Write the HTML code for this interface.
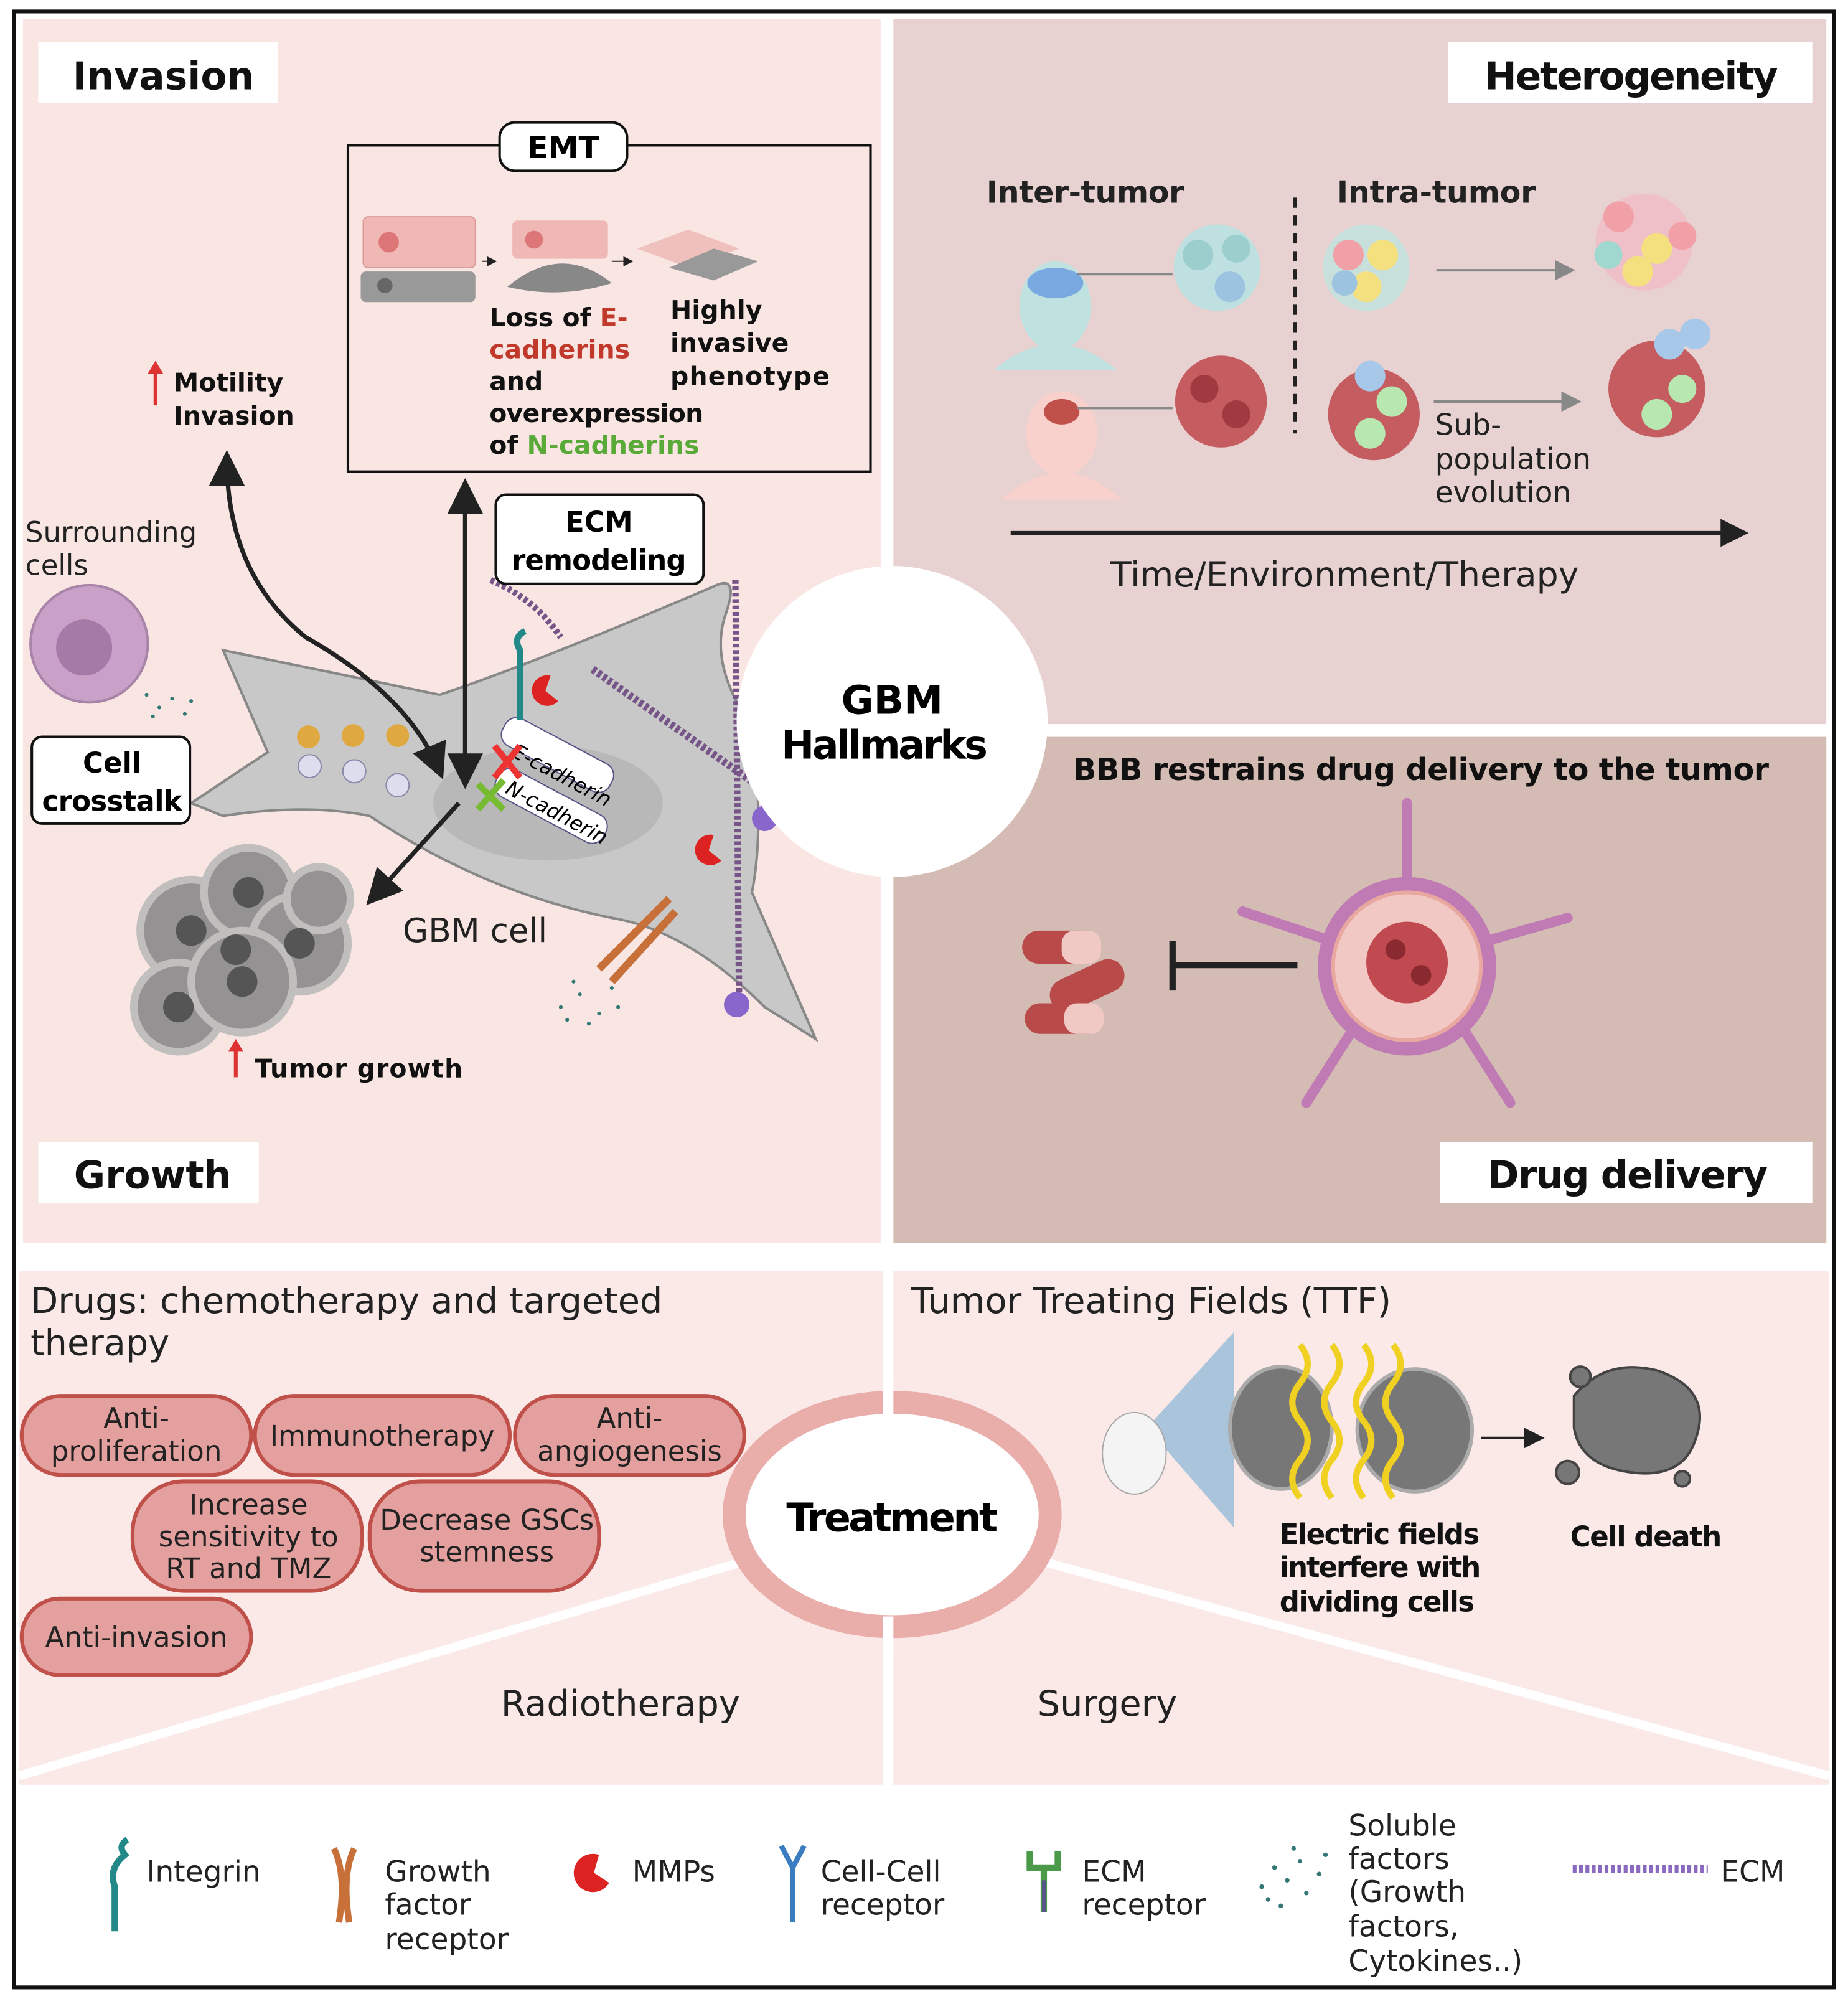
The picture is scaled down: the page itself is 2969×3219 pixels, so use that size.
<!DOCTYPE html>
<html><head><meta charset="utf-8"><style>
html,body{margin:0;padding:0;background:#fff}
svg{display:block}
text{font-family:"DejaVu Sans","Liberation Sans",sans-serif}
</style></head><body>
<svg width="2969" height="3219" viewBox="0 0 1450 1572" preserveAspectRatio="none" xmlns="http://www.w3.org/2000/svg">
<defs>
<marker id="ah" markerWidth="8" markerHeight="8" refX="6" refY="4" orient="auto" markerUnits="strokeWidth"><path d="M0,0 L8,4 L0,8 z" fill="#222"/></marker>
<marker id="as" markerWidth="8" markerHeight="8" refX="2" refY="4" orient="auto" markerUnits="strokeWidth"><path d="M8,0 L0,4 L8,8 z" fill="#222"/></marker>
<marker id="ag" markerWidth="8" markerHeight="8" refX="6" refY="4" orient="auto" markerUnits="strokeWidth"><path d="M0,0 L8,4 L0,8 z" fill="#888"/></marker>
</defs>
<rect x="0" y="0" width="1450" height="1572" fill="#fff"/>
<rect x="11" y="9" width="1428" height="1550" fill="#fff" stroke="#111" stroke-width="3"/>
<rect x="18" y="15" width="673" height="960" fill="#f9e6e3"/>
<rect x="701" y="15" width="732" height="553" fill="#e7d1d1"/>
<rect x="701" y="578" width="732" height="397" fill="#d4bcb4"/>
<rect x="15" y="997" width="1420" height="403" fill="#fbe9e8"/>
<line x1="697" y1="995" x2="697" y2="1400" stroke="#fff" stroke-width="8"/>
<line x1="600" y1="1220" x2="15" y2="1393" stroke="#fff" stroke-width="7"/>
<line x1="800" y1="1220" x2="1435" y2="1393" stroke="#fff" stroke-width="7"/>
<rect x="30" y="33" width="188" height="48" fill="#fff"/><text x="57" y="70" font-size="30" font-weight="bold" fill="#111">Invasion</text>
<rect x="1136" y="33" width="286" height="48" fill="#fff"/><text x="1165" y="70" font-size="30" font-weight="bold" fill="#111" textLength="230">Heterogeneity</text>
<rect x="30" y="896" width="173" height="48" fill="#fff"/><text x="58" y="932" font-size="30" font-weight="bold" fill="#111">Growth</text>
<rect x="1130" y="896" width="292" height="48" fill="#fff"/><text x="1167" y="932" font-size="30" font-weight="bold" fill="#111" textLength="220">Drug delivery</text>
<rect x="273" y="114" width="410" height="256" fill="none" stroke="#111" stroke-width="2"/>
<rect x="392" y="96" width="100" height="38" rx="12" fill="#fff" stroke="#111" stroke-width="2"/>
<text x="442" y="124" font-size="24" font-weight="bold" text-anchor="middle">EMT</text>
<rect x="285" y="170" width="88" height="40" rx="4" fill="#f0b8b4" stroke="#d99"/>
<circle cx="305" cy="190" r="8" fill="#d77"/>
<rect x="283" y="213" width="90" height="24" rx="4" fill="#999"/>
<circle cx="302" cy="224" r="6" fill="#666"/>
<line x1="378" y1="205" x2="388" y2="205" stroke="#222" marker-end="url(#ah)"/>
<rect x="402" y="173" width="75" height="30" rx="4" fill="#f0b8b4"/>
<circle cx="419" cy="188" r="7" fill="#d77"/>
<path d="M398,225 Q440,190 480,222 Q440,235 398,225z" fill="#888"/>
<line x1="480" y1="205" x2="495" y2="205" stroke="#222" marker-end="url(#ah)"/>
<path d="M500,195 L540,180 L580,195 L540,210z" fill="#f0c0bc"/>
<path d="M525,210 L560,195 L595,205 L560,220z" fill="#999"/>
<g font-size="20" font-weight="bold" fill="#111">
<text x="384" y="256">Loss of <tspan fill="#c0392b">E-</tspan></text>
<text x="384" y="281" fill="#c0392b">cadherins</text>
<text x="384" y="306">and</text>
<text x="384" y="331" textLength="168">overexpression</text>
<text x="384" y="356">of <tspan fill="#5aaa3a">N-cadherins</tspan></text>
<text x="526" y="250">Highly</text>
<text x="526" y="276">invasive</text>
<text x="526" y="302" textLength="125">phenotype</text>
<text x="136" y="307">Motility</text>
<text x="136" y="333">Invasion</text>
<text x="200" y="845" textLength="163">Tumor growth</text>
</g>
<line x1="122" y1="318" x2="122" y2="290" stroke="#d33" stroke-width="3"/><path d="M116,293 L122,283 L128,293z" fill="#d33"/>
<line x1="185" y1="845" x2="185" y2="822" stroke="#d33" stroke-width="3"/><path d="M179,825 L185,815 L191,825z" fill="#d33"/>
<text x="20" y="425" font-size="22" fill="#222">Surrounding</text>
<text x="20" y="451" font-size="22" fill="#222">cells</text>
<circle cx="70" cy="505" r="46" fill="#c9a0c8" stroke="#a884a8" stroke-width="2"/>
<circle cx="66" cy="508" r="22" fill="#a57aa6"/>
<path d="M175,510 L345,545 Q420,520 560,460 Q580,450 570,480 Q555,520 590,570 Q600,650 590,700 L640,815 L600,790 Q540,730 480,720 Q380,700 290,640 Q240,630 175,640 L150,630 L210,590z" fill="#c8c8c8" stroke="#888" stroke-width="2"/>
<ellipse cx="430" cy="630" rx="90" ry="45" fill="#b8b8b8"/>
<g fill="#e0a840"><circle cx="242" cy="578" r="9"/><circle cx="277" cy="577" r="9"/><circle cx="312" cy="577" r="9"/></g>
<g fill="#dde" stroke="#88a"><circle cx="243" cy="601" r="9"/><circle cx="278" cy="605" r="9"/><circle cx="312" cy="616" r="9"/></g>
<rect x="390" y="580" width="95" height="24" rx="10" fill="#fff" stroke="#558" transform="rotate(28 437 592)"/>
<text x="405" y="610" font-size="16" font-style="italic" transform="rotate(28 437 592)">E-cadherin</text>
<rect x="385" y="620" width="95" height="24" rx="10" fill="#fff" stroke="#558" transform="rotate(28 432 632)"/>
<text x="395" y="640" font-size="16" font-style="italic" transform="rotate(28 432 632)">N-cadherin</text>
<path d="M388,585 L408,610 M408,585 L388,610" stroke="#e33" stroke-width="5"/>
<path d="M375,615 L395,635 M395,612 L375,635" stroke="#7b3" stroke-width="5"/>
<path d="M385,455 Q420,470 440,500" stroke="#758" stroke-width="5" fill="none" stroke-dasharray="3 2"/>
<path d="M465,525 L600,620" stroke="#758" stroke-width="6" fill="none" stroke-dasharray="3 2"/>
<path d="M577,455 L580,795" stroke="#758" stroke-width="5" fill="none" stroke-dasharray="3 2"/>
<circle cx="600" cy="642" r="10" fill="#86c"/><circle cx="578" cy="788" r="10" fill="#86c"/>
<path d="M432,530 a12,12 0 1,0 6,20 l-10,-8z" fill="#d22"/>
<path d="M560,655 a12,12 0 1,0 6,20 l-10,-8z" fill="#d22"/>
<path d="M408,565 L408,510 Q402,500 412,495" stroke="#288" stroke-width="5" fill="none"/>
<path d="M470,760 L525,705 M480,770 L530,715" stroke="#c7703a" stroke-width="6"/>
<g fill="#377">
<circle cx="440" cy="790" r="1.5"/><circle cx="455" cy="780" r="1.5"/><circle cx="470" cy="795" r="1.5"/><circle cx="450" cy="770" r="1.5"/><circle cx="480" cy="775" r="1.5"/><circle cx="462" cy="803" r="1.5"/><circle cx="485" cy="790" r="1.5"/><circle cx="445" cy="800" r="1.5"/>
<circle cx="115" cy="545" r="1.5"/><circle cx="125" cy="555" r="1.5"/><circle cx="135" cy="548" r="1.5"/><circle cx="145" cy="560" r="1.5"/><circle cx="150" cy="550" r="1.5"/><circle cx="120" cy="562" r="1.5"/>
</g>
<path d="M178,360 Q178,450 240,500 Q320,545 345,605" stroke="#222" stroke-width="3.5" fill="none" marker-end="url(#ah)" marker-start="url(#as)"/>
<line x1="365" y1="612" x2="365" y2="382" stroke="#222" stroke-width="3.5" marker-end="url(#ah)" marker-start="url(#as)"/>
<line x1="360" y1="630" x2="292" y2="705" stroke="#222" stroke-width="3.5" marker-end="url(#ah)"/>
<rect x="25" y="578" width="124" height="68" rx="8" fill="#fff" stroke="#111" stroke-width="2"/>
<text x="88" y="606" font-size="22" font-weight="bold" text-anchor="middle">Cell</text>
<text x="88" y="636" font-size="22" font-weight="bold" text-anchor="middle" textLength="110">crosstalk</text>
<rect x="389" y="388" width="163" height="70" rx="8" fill="#fff" stroke="#111" stroke-width="2"/>
<text x="470" y="417" font-size="22" font-weight="bold" text-anchor="middle">ECM</text>
<text x="470" y="447" font-size="22" font-weight="bold" text-anchor="middle" textLength="137">remodeling</text>
<text x="316" y="739" font-size="26" fill="#222">GBM cell</text>
<g fill="#8a8a8a" stroke="#bbb" stroke-width="6" opacity="0.9">
<circle cx="150" cy="730" r="40"/><circle cx="195" cy="700" r="35"/><circle cx="235" cy="740" r="38"/><circle cx="140" cy="790" r="35"/><circle cx="190" cy="770" r="40"/><circle cx="250" cy="705" r="25"/>
</g>
<g fill="#555"><circle cx="150" cy="730" r="12"/><circle cx="195" cy="700" r="12"/><circle cx="235" cy="740" r="12"/><circle cx="140" cy="790" r="12"/><circle cx="190" cy="770" r="12"/><circle cx="185" cy="745" r="12"/></g>
<circle cx="700" cy="566" r="122" fill="#fff"/>
<text x="700" y="560" font-size="31" font-weight="bold" text-anchor="middle">GBM</text>
<text x="694" y="595" font-size="31" font-weight="bold" text-anchor="middle" textLength="162">Hallmarks</text>
<g font-size="24" font-weight="bold" fill="#222"><text x="774" y="159" textLength="155">Inter-tumor</text><text x="1049" y="159" textLength="156">Intra-tumor</text></g>
<line x1="1016" y1="155" x2="1016" y2="340" stroke="#222" stroke-width="3" stroke-dasharray="8 6"/>
<ellipse cx="828" cy="240" rx="28" ry="35" fill="#bfe2e0"/><path d="M780,290 Q828,250 876,290z" fill="#bfe2e0"/><ellipse cx="828" cy="222" rx="22" ry="12" fill="#7aa8e0"/>
<ellipse cx="833" cy="340" rx="28" ry="33" fill="#f8d0cc"/><path d="M785,392 Q833,350 881,392z" fill="#f8d0cc"/><ellipse cx="833" cy="323" rx="14" ry="10" fill="#c0504a"/>
<line x1="845" y1="215" x2="920" y2="215" stroke="#888" stroke-width="2"/><line x1="845" y1="320" x2="920" y2="320" stroke="#888" stroke-width="2"/>
<g><circle cx="955" cy="210" r="34" fill="#bfe0e0"/><circle cx="940" cy="200" r="12" fill="#9ccece"/><circle cx="965" cy="225" r="12" fill="#9cc4e0"/><circle cx="970" cy="195" r="11" fill="#9ccece"/></g>
<g><circle cx="958" cy="315" r="36" fill="#c45c60"/><circle cx="945" cy="305" r="11" fill="#a03a40"/><circle cx="970" cy="325" r="11" fill="#a03a40"/></g>
<g><circle cx="1072" cy="210" r="34" fill="#c8e0dc"/><circle cx="1058" cy="200" r="12" fill="#f2a0a8"/><circle cx="1085" cy="200" r="12" fill="#f5e080"/><circle cx="1072" cy="225" r="12" fill="#f5e080"/><circle cx="1055" cy="222" r="10" fill="#9cc4e0"/></g>
<g><circle cx="1290" cy="190" r="38" fill="#f0c0c8"/><circle cx="1270" cy="170" r="12" fill="#f2a0a8"/><circle cx="1300" cy="195" r="12" fill="#f5e080"/><circle cx="1285" cy="213" r="12" fill="#f5e080"/><circle cx="1262" cy="200" r="11" fill="#a0d8d0"/><circle cx="1320" cy="185" r="11" fill="#f2a0a8"/></g>
<g><circle cx="1078" cy="325" r="36" fill="#c45c60"/><circle cx="1075" cy="295" r="12" fill="#a8c8ea"/><circle cx="1092" cy="315" r="12" fill="#b8e8b0"/><circle cx="1075" cy="340" r="12" fill="#b8e8b0"/></g>
<g><circle cx="1300" cy="305" r="38" fill="#c45c60"/><circle cx="1310" cy="270" r="12" fill="#a8c8ea"/><circle cx="1330" cy="262" r="12" fill="#a8c8ea"/><circle cx="1300" cy="325" r="12" fill="#b8e8b0"/><circle cx="1320" cy="305" r="11" fill="#b8e8b0"/></g>
<line x1="1127" y1="212" x2="1232" y2="212" stroke="#888" stroke-width="2" marker-end="url(#ag)"/>
<line x1="1125" y1="315" x2="1237" y2="315" stroke="#888" stroke-width="2" marker-end="url(#ag)"/>
<g font-size="23" fill="#222"><text x="1126" y="341">Sub-</text><text x="1126" y="368">population</text><text x="1126" y="394">evolution</text></g>
<line x1="793" y1="418" x2="1355" y2="418" stroke="#222" stroke-width="3"/><path d="M1350,407 L1372,418 L1350,429z" fill="#222"/>
<text x="1055" y="460" font-size="27" fill="#222" text-anchor="middle">Time/Environment/Therapy</text>
<text x="1115" y="612" font-size="24" font-weight="bold" fill="#111" text-anchor="middle" textLength="546">BBB restrains drug delivery to the tumor</text>
<g stroke="#c07ab4" stroke-width="8" stroke-linecap="round"><line x1="1104" y1="630" x2="1104" y2="690"/><line x1="975" y1="715" x2="1050" y2="740"/><line x1="1160" y1="740" x2="1230" y2="720"/><line x1="1060" y1="810" x2="1025" y2="865"/><line x1="1150" y1="810" x2="1185" y2="865"/></g>
<circle cx="1104" cy="758" r="70" fill="#c07ab4"/>
<circle cx="1104" cy="758" r="58" fill="#f2c8c4" stroke="#e8a8a0" stroke-width="3"/>
<circle cx="1104" cy="755" r="32" fill="#c04a50"/><circle cx="1095" cy="745" r="8" fill="#8a2a30"/><circle cx="1115" cy="765" r="8" fill="#8a2a30"/>
<g><rect x="802" y="730" width="62" height="26" rx="13" fill="#b84a4a"/><rect x="833" y="730" width="31" height="26" rx="10" fill="#f0c8c4"/>
<rect x="822" y="760" width="62" height="26" rx="13" fill="#b84a4a" transform="rotate(-25 853 773)"/>
<rect x="804" y="787" width="62" height="24" rx="12" fill="#b84a4a"/><rect x="835" y="787" width="31" height="24" rx="10" fill="#f0c8c4"/></g>
<line x1="920" y1="757" x2="1018" y2="757" stroke="#222" stroke-width="5"/><line x1="920" y1="738" x2="920" y2="777" stroke="#222" stroke-width="5"/>
<ellipse cx="700" cy="1188" rx="124" ry="88" fill="#fff" stroke="#e9adaa" stroke-width="18"/>
<line x1="697" y1="1080" x2="697" y2="1110" stroke="#fff" stroke-width="8"/>
<line x1="697" y1="1268" x2="697" y2="1300" stroke="#fff" stroke-width="8"/>
<text x="700" y="1201" font-size="31" font-weight="bold" text-anchor="middle" textLength="166">Treatment</text>
<text x="24" y="1030" font-size="28" fill="#222">Drugs: chemotherapy and targeted</text>
<text x="24" y="1063" font-size="28" fill="#222">therapy</text>
<text x="715" y="1030" font-size="28" fill="#222">Tumor Treating Fields (TTF)</text>
<text x="393" y="1346" font-size="28" fill="#222">Radiotherapy</text>
<text x="814" y="1346" font-size="28" fill="#222">Surgery</text>
<g fill="#e4a09e" stroke="#c0504a" stroke-width="3">
<rect x="17" y="1095" width="180" height="62" rx="31"/><rect x="200" y="1095" width="200" height="62" rx="31"/><rect x="404" y="1095" width="180" height="62" rx="31"/>
<rect x="104" y="1162" width="180" height="86" rx="40"/><rect x="290" y="1162" width="180" height="86" rx="40"/>
<rect x="17" y="1254" width="180" height="60" rx="30"/>
</g>
<g font-size="22" fill="#222" text-anchor="middle">
<text x="107" y="1120">Anti-</text><text x="107" y="1146">proliferation</text>
<text x="300" y="1134">Immunotherapy</text>
<text x="494" y="1120">Anti-</text><text x="494" y="1146">angiogenesis</text>
<text x="195" y="1188">Increase</text><text x="195" y="1213">sensitivity to</text><text x="195" y="1238">RT and TMZ</text>
<text x="382" y="1200">Decrease GSCs</text><text x="382" y="1225">stemness</text>
<text x="107" y="1292">Anti-invasion</text>
</g>
<path d="M900,1120 L968,1045 L968,1198z" fill="#aac4dc"/>
<ellipse cx="890" cy="1140" rx="25" ry="32" fill="#f4f4f4" stroke="#aaa"/>
<g fill="#777" stroke="#aaa" stroke-width="3"><ellipse cx="1005" cy="1120" rx="40" ry="48"/><ellipse cx="1110" cy="1122" rx="45" ry="48"/></g>
<g stroke="#f0d020" stroke-width="5" fill="none">
<path d="M1020,1055 q12,15 0,30 q-12,15 0,30 q12,15 0,30 q-12,15 0,30"/>
<path d="M1045,1055 q12,15 0,30 q-12,15 0,30 q12,15 0,30 q-12,15 0,30"/>
<path d="M1070,1055 q12,15 0,30 q-12,15 0,30 q12,15 0,30 q-12,15 0,30"/>
<path d="M1093,1055 q12,15 0,30 q-12,15 0,30 q12,15 0,30 q-12,15 0,30"/>
</g>
<line x1="1162" y1="1128" x2="1208" y2="1128" stroke="#222" stroke-width="2" marker-end="url(#ah)"/>
<g fill="#777" stroke="#444" stroke-width="2"><path d="M1235,1095 Q1260,1065 1300,1075 Q1345,1090 1330,1130 Q1320,1160 1280,1155 Q1240,1150 1235,1120z"/><circle cx="1230" cy="1155" r="9"/><circle cx="1320" cy="1160" r="6"/><circle cx="1240" cy="1080" r="8"/></g>
<g font-size="22" font-weight="bold" fill="#111"><text x="1004" y="1211" textLength="157">Electric fields</text><text x="1004" y="1237" textLength="158">interfere with</text><text x="1004" y="1264" textLength="153">dividing cells</text><text x="1232" y="1213" textLength="119">Cell death</text></g>
<g font-size="23" fill="#222">
<text x="115" y="1476">Integrin</text>
<text x="302" y="1476">Growth</text><text x="302" y="1502">factor</text><text x="302" y="1529">receptor</text>
<text x="496" y="1476">MMPs</text>
<text x="644" y="1476">Cell-Cell</text><text x="644" y="1502">receptor</text>
<text x="849" y="1476">ECM</text><text x="849" y="1502">receptor</text>
<text x="1058" y="1440">Soluble</text><text x="1058" y="1466">factors</text><text x="1058" y="1492">(Growth</text><text x="1058" y="1519">factors,</text><text x="1058" y="1546">Cytokines..)</text>
<text x="1350" y="1476">ECM</text>
</g>
<path d="M90,1515 L90,1480 Q85,1465 98,1455 Q92,1448 100,1443" stroke="#288" stroke-width="5" fill="none"/>
<path d="M262,1450 Q272,1470 266,1508 M278,1450 Q268,1470 274,1508" stroke="#c7703a" stroke-width="5" fill="none"/>
<path d="M470,1455 a15,15 0 1,0 8,22 l-12,-8z" fill="#d22"/>
<path d="M613,1448 L622,1465 L631,1448 M622,1465 L622,1508" stroke="#3a7cc0" stroke-width="4" fill="none"/>
<path d="M808,1452 L808,1465 L830,1465 L830,1452 M819,1465 L819,1500" stroke="#4a9a4a" stroke-width="5" fill="none"/>
<path d="M819,1475 L819,1500" stroke="#558" stroke-width="3"/>
<g fill="#377"><circle cx="990" cy="1480" r="1.8"/><circle cx="1000" cy="1465" r="1.8"/><circle cx="1010" cy="1475" r="1.8"/><circle cx="1020" cy="1460" r="1.8"/><circle cx="1025" cy="1485" r="1.8"/><circle cx="1035" cy="1470" r="1.8"/><circle cx="1005" cy="1495" r="1.8"/><circle cx="1015" cy="1450" r="1.8"/><circle cx="1040" cy="1455" r="1.8"/><circle cx="995" cy="1490" r="1.8"/></g>
<line x1="1234" y1="1466" x2="1340" y2="1466" stroke="#8a6ac0" stroke-width="6" stroke-dasharray="3 2"/>
</svg>
</body></html>
